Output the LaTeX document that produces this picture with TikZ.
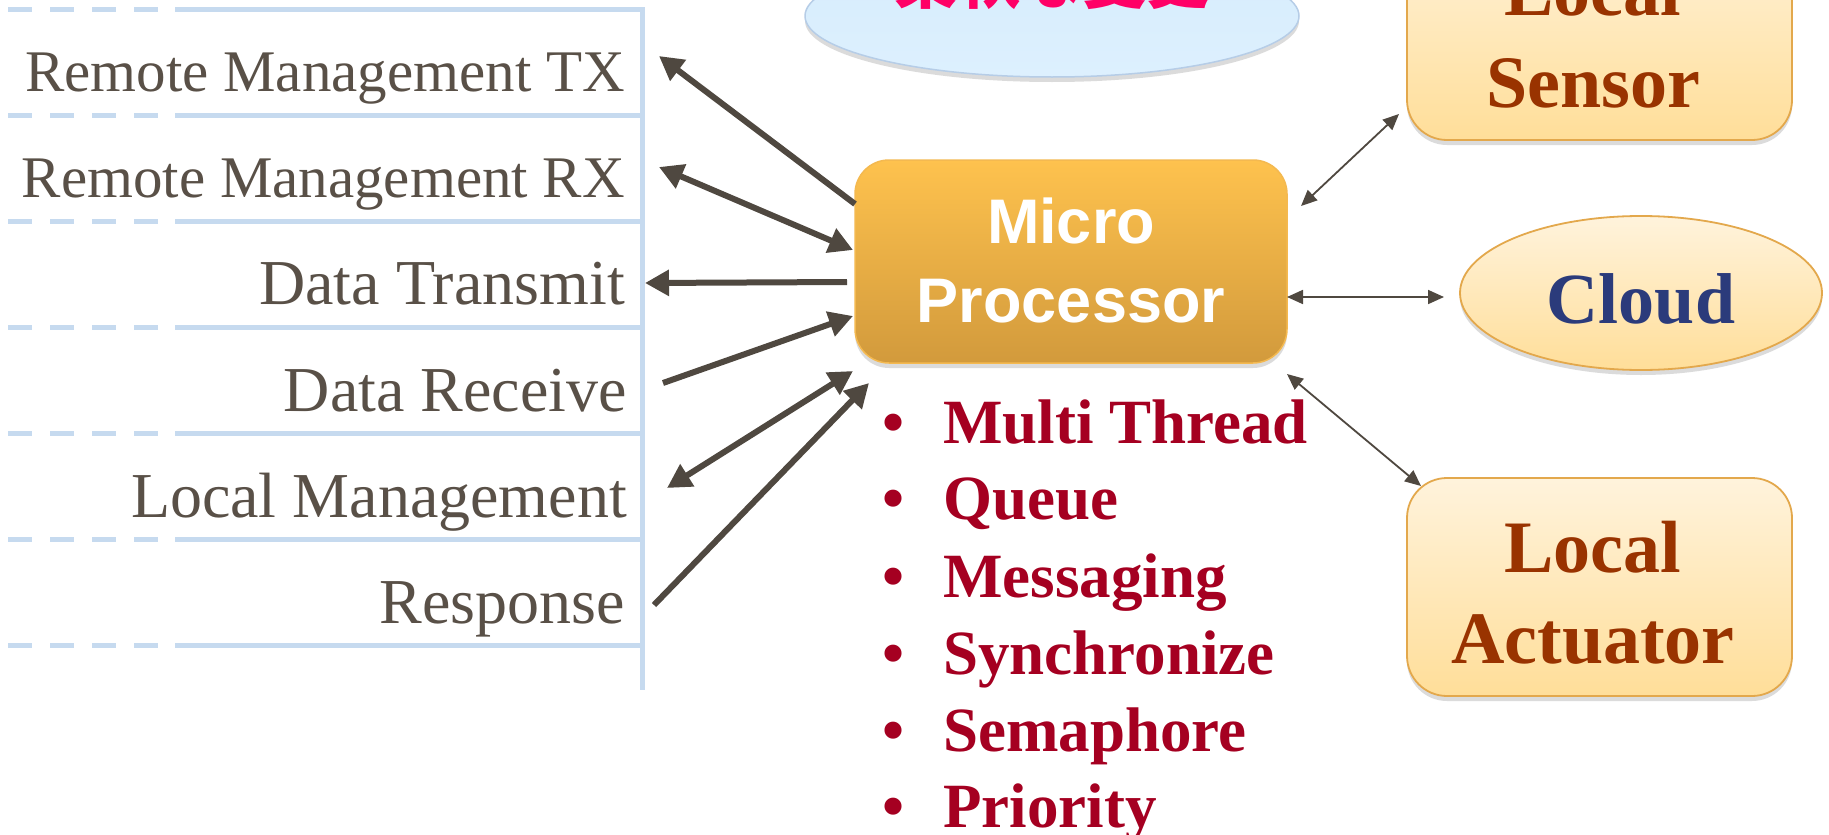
\documentclass[tikz,border=0pt]{standalone}
\usepackage{fontspec}
\setmainfont{Liberation Serif}
\newfontfamily\arialfont{Liberation Sans}
\newfontfamily\jpfont{Noto Sans CJK JP}
\usetikzlibrary{arrows.meta,shadows,shapes.geometric}
\definecolor{rulelightblue}{HTML}{C6DAEF}
\definecolor{txtgray}{HTML}{595047}
\definecolor{arrowgray}{HTML}{4F4840}
\definecolor{bulletred}{HTML}{A50021}
\definecolor{brownred}{HTML}{993300}
\definecolor{cloudnavy}{HTML}{2B3B7B}
\definecolor{pinktxt}{HTML}{FF0066}
\definecolor{mptop}{HTML}{FEC24E}
\definecolor{mpbot}{HTML}{D29A3C}
\definecolor{mpborder}{HTML}{F4B950}
\definecolor{lighttop}{HTML}{FFF3DC}
\definecolor{lightbot}{HTML}{FFDE99}
\definecolor{lightborder}{HTML}{E3A84C}
\definecolor{bluetop}{HTML}{D6ECFC}
\definecolor{bluebot}{HTML}{DDF0FE}
\definecolor{blueborder}{HTML}{B6CDE7}
\tikzset{
  rowtext/.style={anchor=base east, inner sep=0pt, text=txtgray, font=\fontsize{59}{70}\selectfont},
  rowtextbig/.style={rowtext, font=\fontsize{64}{76}\selectfont},
  tablerule/.style={draw=rulelightblue, line width=5pt},
  bigarrow/.style={draw=arrowgray, line width=6pt, -{Triangle[length=24pt,width=25pt]}},
  bigdouble/.style={draw=arrowgray, line width=6pt, {Triangle[length=24pt,width=25pt]}-{Triangle[length=24pt,width=25pt]}},
  thindouble/.style={draw=arrowgray, line width=1.8pt, {Triangle[length=16pt,width=14pt]}-{Triangle[length=16pt,width=14pt]}},
  softshadow/.style={drop shadow={opacity=0.28, shadow xshift=0pt, shadow yshift=-5pt}},
  mpbox/.style={rectangle, rounded corners=34pt, minimum width=432pt, minimum height=203pt, inner sep=0pt,
    top color=mptop, bottom color=mpbot, draw=mpborder, line width=1.5pt, softshadow},
  lightbox/.style={rectangle, rounded corners=40pt, minimum width=385pt, minimum height=218pt, inner sep=0pt,
    top color=lighttop, bottom color=lightbot, draw=lightborder, line width=1.8pt, softshadow},
  mptext/.style={anchor=base, inner sep=0pt, text=white, font=\arialfont\bfseries\fontsize{63}{79}\selectfont},
  boxtext/.style={anchor=base, inner sep=0pt, text=brownred, font=\bfseries\fontsize{74}{91}\selectfont},
  bullettext/.style={anchor=base west, inner sep=0pt, text=bulletred, font=\bfseries\fontsize{63}{77}\selectfont},
}
\begin{document}
\begin{tikzpicture}[x=1pt,y=-1pt]
\useasboundingbox (0,0) rectangle (1829,835);
\clip (0,0) rectangle (1829,835);
\fill[white] (0,0) rectangle (1829,835);

% left table rules
\foreach \yy in {9,115,221,327,433,539,645} {
  \draw[tablerule, dash pattern=on 24pt off 18pt] (8,\yy) -- (160,\yy);
  \draw[tablerule] (175,\yy) -- (642,\yy);
}
\draw[tablerule] (642,7) -- (642,690);

% left labels
\node[rowtext] (rtx) at (625,91)  {Remote Management TX};
\node[rowtext] (rrx) at (625,197) {Remote Management RX};
\node[rowtextbig] (dtx) at (625,304) {Data Transmit};
\node[rowtextbig] (drx) at (627,411) {Data Receive};
\node[rowtextbig] (lmg) at (627,517) {Local Management};
\node[rowtextbig] (rsp) at (625,623) {Response};

% top ellipse
\node[ellipse, minimum width=494pt, minimum height=122pt, inner sep=0pt,
      top color=bluetop, bottom color=bluebot, draw=blueborder, line width=1.5pt, softshadow]
      (topell) at (1052,16) {};
\node[anchor=base, inner sep=0pt, text=pinktxt, font=\jpfont\bfseries\fontsize{63}{63}\selectfont]
      (toptext) at (1052,3) {柔軟な変更};

% micro processor
\node[mpbox] (micro) at (1071,261.5) {};
\node[mptext] (micro-l1) at (1071,243) {Micro};
\node[mptext] (micro-l2) at (1071,322) {Processor};

% local sensor
\node[lightbox] (sensor) at (1599.5,31) {};
\node[boxtext] (sensor-l1) at (1593,16) {Local};
\node[boxtext] (sensor-l2) at (1593,107) {Sensor};

% local actuator
\node[lightbox] (actuator) at (1599.5,587) {};
\node[boxtext] (actuator-l1) at (1593,572) {Local};
\node[boxtext] (actuator-l2) at (1593,663) {Actuator};

% cloud
\node[ellipse, minimum width=362pt, minimum height=154pt, inner sep=0pt,
      top color=lighttop, bottom color=lightbot, draw=lightborder, line width=1.8pt, softshadow]
      (cloud) at (1641,293) {};
\node[anchor=base, inner sep=0pt, text=cloudnavy, font=\bfseries\fontsize{72}{80}\selectfont]
      (cloud-txt) at (1641,323) {Cloud};

% bullets
\foreach \yy/\lbl/\nm in {443/Multi Thread/b1, 519/Queue/b2, 597/Messaging/b3, 674/Synchronize/b4, 751/Semaphore/b5, 827/Priority/b6} {
  \node[bullettext] (\nm-dot) at (882,\yy) {•};
  \node[bullettext] (\nm) at (943,\yy) {\lbl};
}

% connector end coordinates
\coordinate (a1s) at (855,204);  \coordinate (a1e) at (659,56);
\coordinate (a2s) at (853,250);  \coordinate (a2e) at (659,167);
\coordinate (a3s) at (847,282);  \coordinate (a3e) at (645,283);
\coordinate (a4s) at (663,383);  \coordinate (a4e) at (853,316);
\coordinate (a5s) at (853,371);  \coordinate (a5e) at (667,488);
\coordinate (a6s) at (654,605);  \coordinate (a6e) at (869,383);
\coordinate (s1) at (1301,206);  \coordinate (s2) at (1399,114);
\coordinate (c1) at (1287,297);  \coordinate (c2) at (1444,297);
\coordinate (t1) at (1287,374);  \coordinate (t2) at (1421,486);

% thick connectors
\draw[bigarrow] (a1s) -- (a1e);
\draw[bigdouble] (a2s) -- (a2e);
\draw[bigarrow] (a3s) -- (a3e);
\draw[bigarrow] (a4s) -- (a4e);
\draw[bigdouble] (a5s) -- (a5e);
\draw[bigarrow] (a6s) -- (a6e);

% thin connectors
\draw[thindouble] (s1) -- (s2);
\draw[thindouble] (c1) -- (c2);
\draw[thindouble] (t1) -- (t2);
\end{tikzpicture}
\end{document}
